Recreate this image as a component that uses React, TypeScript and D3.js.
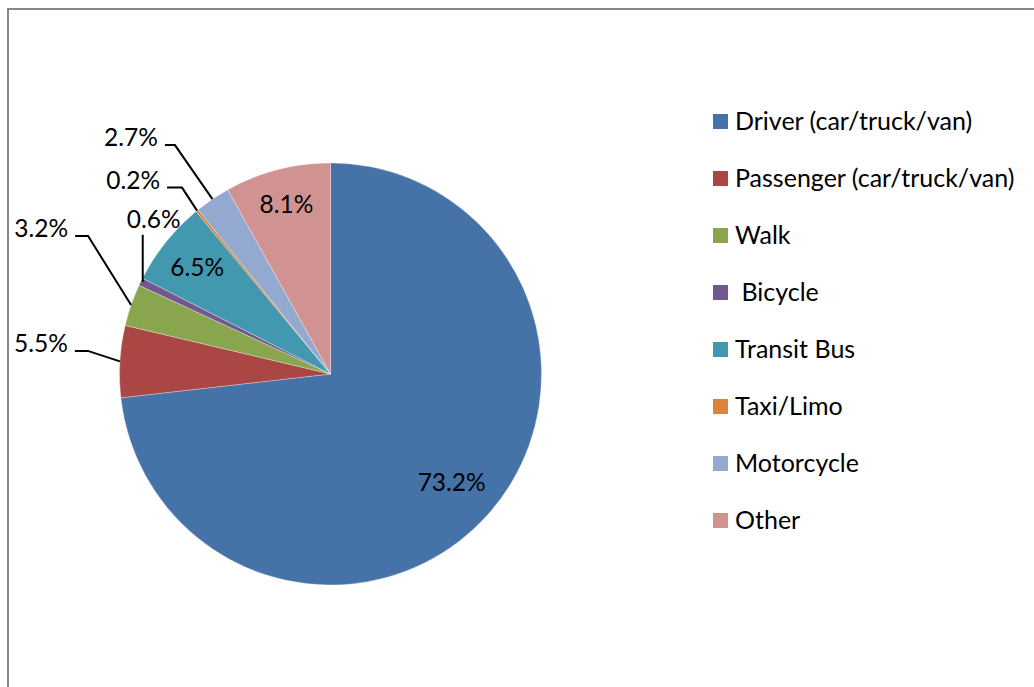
import React from "react";
import * as d3 from "d3";

const categories = [
  "Driver (car/truck/van)",
  "Passenger (car/truck/van)",
  "Walk",
  " Bicycle",
  "Transit Bus",
  "Taxi/Limo",
  "Motorcycle",
  "Other",
];
const shares = [73.2, 5.5, 3.2, 0.6, 6.5, 0.2, 2.7, 8.1];
const valueLabels = ["73.2%", "5.5%", "3.2%", "0.6%", "6.5%", "0.2%", "2.7%", "8.1%"];
const colors = ["#4572A7", "#AA4643", "#89A54E", "#71588F", "#4198AF", "#DB843D", "#93A9CF", "#D09392"];

// label layout: inside labels use a radius fraction; outside labels use an elbow offset from the slice edge
type LabelLayout =
  | { kind: "in"; k: number }
  | { kind: "out"; dx: number; dy: number; h: number; vertical?: boolean };
const labelLayout: LabelLayout[] = [
  { kind: "in", k: 0.77 },
  { kind: "out", dx: -32, dy: -10.5, h: 13 },
  { kind: "out", dx: -43, dy: -69, h: 13 },
  { kind: "out", dx: 2, dy: -47, h: 0, vertical: true },
  { kind: "in", k: 0.81 },
  { kind: "out", dx: -15, dy: -23, h: 15 },
  { kind: "out", dx: -37.5, dy: -54, h: 10 },
  { kind: "in", k: 0.83 },
];

const FONT = "Lato, 'Open Sans', sans-serif";

export default function App() {
  const W = 1034;
  const H = 687;
  const cx = 330.5;
  const cy = 374;
  const R = 211;

  const pie = d3.pie<number>().sort(null).value((d) => d);
  const arcs = pie(shares);
  const arcGen = d3.arc<d3.PieArcDatum<number>>().innerRadius(0).outerRadius(R);

  const legendX = 713;
  const legendY0 = 121.5;
  const legendStep = 57;

  return (
    <svg
      width={W}
      height={H}
      style={{ position: "absolute", left: 0, top: 0, background: "#fff" }}
      fontFamily={FONT}
    >
      <rect x={0} y={0} width={W} height={H} fill="#fff" />
      <line x1={7} y1={9} x2={W} y2={9} stroke="#878787" strokeWidth={2} />
      <line x1={8} y1={8} x2={8} y2={H} stroke="#878787" strokeWidth={2} />

      <g transform={`translate(${cx},${cy})`}>
        {arcs.map((a, i) => (
          <path key={i} d={arcGen(a) || ""} fill={colors[i]} stroke="#ffffff" strokeOpacity={0.5} strokeWidth={0.6} />
        ))}
        {arcs.map((a, i) => {
          const mid = (a.startAngle + a.endAngle) / 2;
          const sx = Math.sin(mid);
          const sy = -Math.cos(mid);
          const L = labelLayout[i];
          if (L.kind === "in") {
            const x = sx * R * L.k;
            const y = sy * R * L.k;
            return (
              <text key={"l" + i} x={x} y={y + 8.5} textAnchor="middle" fontSize={24.5} fill="#000">
                {valueLabels[i]}
              </text>
            );
          }
          const ex = sx * R;
          const ey = sy * R;
          const bx = ex + L.dx;
          const by = ey + L.dy;
          if (L.vertical) {
            return (
              <g key={"l" + i}>
                <line x1={ex + L.dx} y1={ey} x2={bx} y2={by} stroke="#000" strokeWidth={2} />
                <text x={bx + 11} y={by - 7} textAnchor="middle" fontSize={24.5} fill="#000">
                  {valueLabels[i]}
                </text>
              </g>
            );
          }
          const tx = bx - L.h;
          return (
            <g key={"l" + i}>
              <polyline
                points={`${ex},${ey} ${bx},${by} ${tx},${by}`}
                fill="none"
                stroke="#000"
                strokeWidth={2}
              />
              <text x={tx - 7} y={by + 1} textAnchor="end" fontSize={24.5} fill="#000">
                {valueLabels[i]}
              </text>
            </g>
          );
        })}
      </g>

      <g>
        {categories.map((c, i) => {
          const y = legendY0 + i * legendStep;
          return (
            <g key={c}>
              <rect x={legendX} y={y - 7.5} width={15} height={15} fill={colors[i]} />
              <text x={legendX + 22} y={y + 8.5} fontSize={25} fill="#000" style={{ whiteSpace: "pre" }}>
                {c}
              </text>
            </g>
          );
        })}
      </g>
    </svg>
  );
}
